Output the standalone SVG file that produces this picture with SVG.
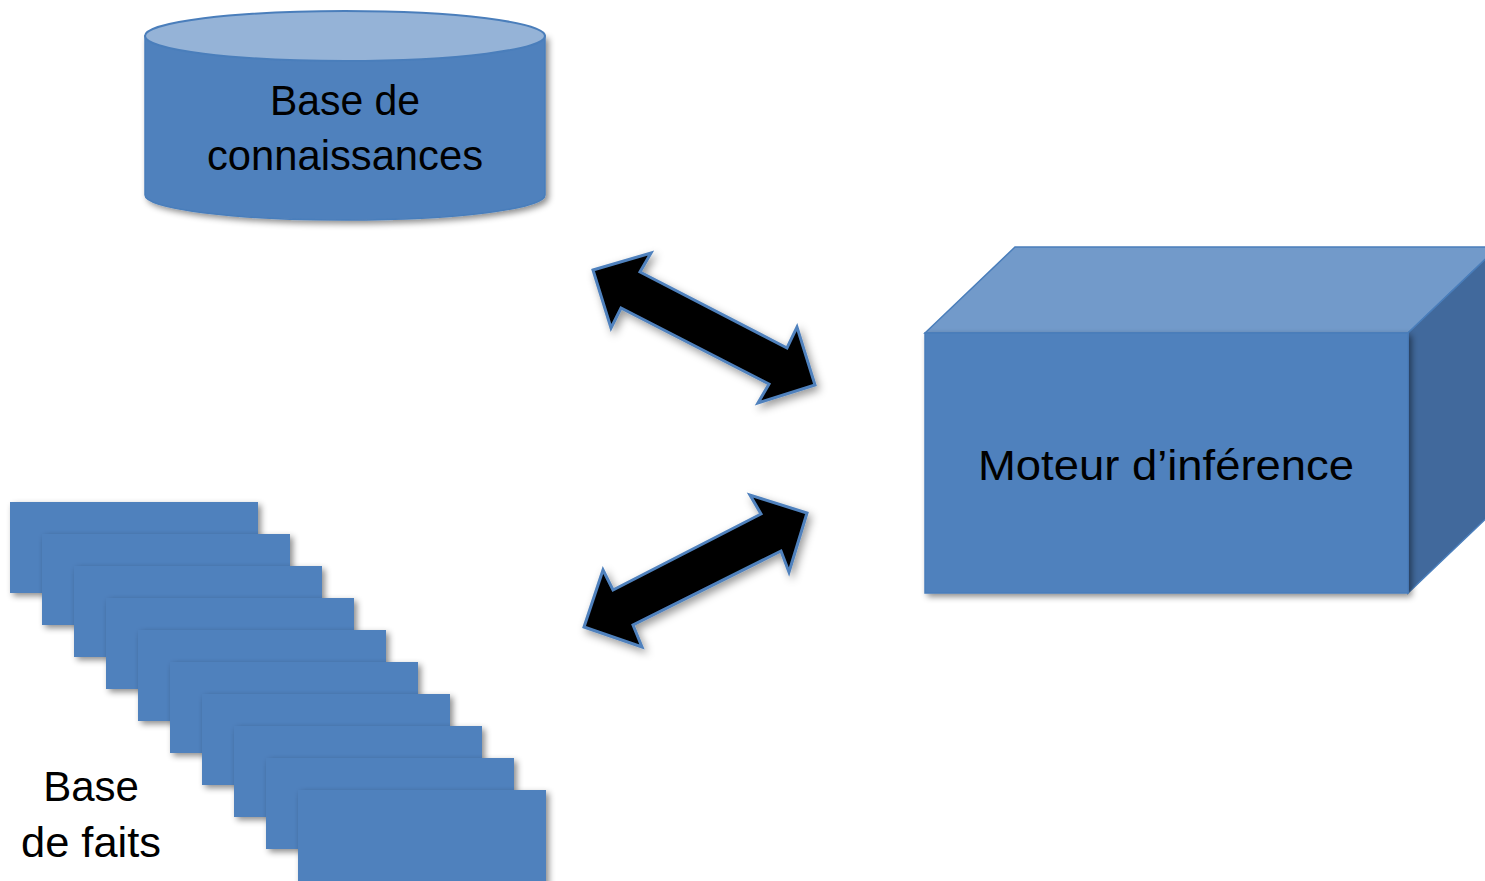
<svg xmlns="http://www.w3.org/2000/svg" width="1485" height="881" viewBox="0 0 1485 881">
<style>
.lbl{font-family:"Liberation Sans",Arial,sans-serif;font-size:42px;fill:#000;text-anchor:middle}
.blue{fill:#4f81bd}
.card{fill:#4f81bd;filter:url(#sh)}
.arrow{fill:#000;stroke:#4f81bd;stroke-width:3;stroke-linejoin:miter;filter:url(#sh2)}
</style>
<defs>
<filter id="sh" x="-10%" y="-10%" width="130%" height="140%">
<feDropShadow dx="3" dy="3" stdDeviation="3" flood-color="#000" flood-opacity="0.45"/>
</filter>
<filter id="sh2" x="-10%" y="-10%" width="130%" height="130%">
<feDropShadow dx="3" dy="4" stdDeviation="4" flood-color="#000" flood-opacity="0.4"/>
</filter>
</defs>
<rect width="1485" height="881" fill="#fff"/>

<g id="base-connaissances">
<path d="M145,36 L145,195 A200,25 0 0 0 545,195 L545,36 Z" fill="#4f81bd" stroke="#4a7ebb" stroke-width="1.5" filter="url(#sh)"/>
<ellipse cx="345" cy="36" rx="200" ry="25" fill="#95b3d7" stroke="#4a7ebb" stroke-width="2"/>
<text class="lbl" x="345" y="115" textLength="150" lengthAdjust="spacingAndGlyphs">Base de</text>
<text class="lbl" x="345" y="170" textLength="276" lengthAdjust="spacingAndGlyphs">connaissances</text>
</g>

<g id="moteur-inference">
<polygon points="925,333 1015,247 1498,247 1408,333" fill="#729aca" stroke="#4a7ebb" stroke-width="1.5"/>
<polygon points="1408,333 1498,247 1498,507 1408,593" fill="#41699c" stroke="#4a7ebb" stroke-width="1.5"/>
<rect x="925" y="333" width="483" height="260" fill="#4f81bd" stroke="#4a7ebb" stroke-width="1.5" filter="url(#sh)"/>
<text class="lbl" x="1166" y="480" textLength="376" lengthAdjust="spacingAndGlyphs">Moteur d’inférence</text>
</g>

<g id="base-faits">
<rect class="card" x="10" y="502" width="248" height="91"/>
<rect class="card" x="42" y="534" width="248" height="91"/>
<rect class="card" x="74" y="566" width="248" height="91"/>
<rect class="card" x="106" y="598" width="248" height="91"/>
<rect class="card" x="138" y="630" width="248" height="91"/>
<rect class="card" x="170" y="662" width="248" height="91"/>
<rect class="card" x="202" y="694" width="248" height="91"/>
<rect class="card" x="234" y="726" width="248" height="91"/>
<rect class="card" x="266" y="758" width="248" height="91"/>
<rect class="card" x="298" y="790" width="248" height="100"/>
<text class="lbl" x="91" y="801">Base</text>
<text class="lbl" x="91" y="857" textLength="140" lengthAdjust="spacingAndGlyphs">de faits</text>
</g>

<g id="connectors">
<polygon class="arrow" points="593,270 651,253 640,272 787,348 797,327 815,385 758,403 769,384 621,308 611,328"/>
<polygon class="arrow" points="807,513 789,572 781,551 633,625 642,647 584,627 603,570 613,590 761,514 750,495"/>
</g>
</svg>
